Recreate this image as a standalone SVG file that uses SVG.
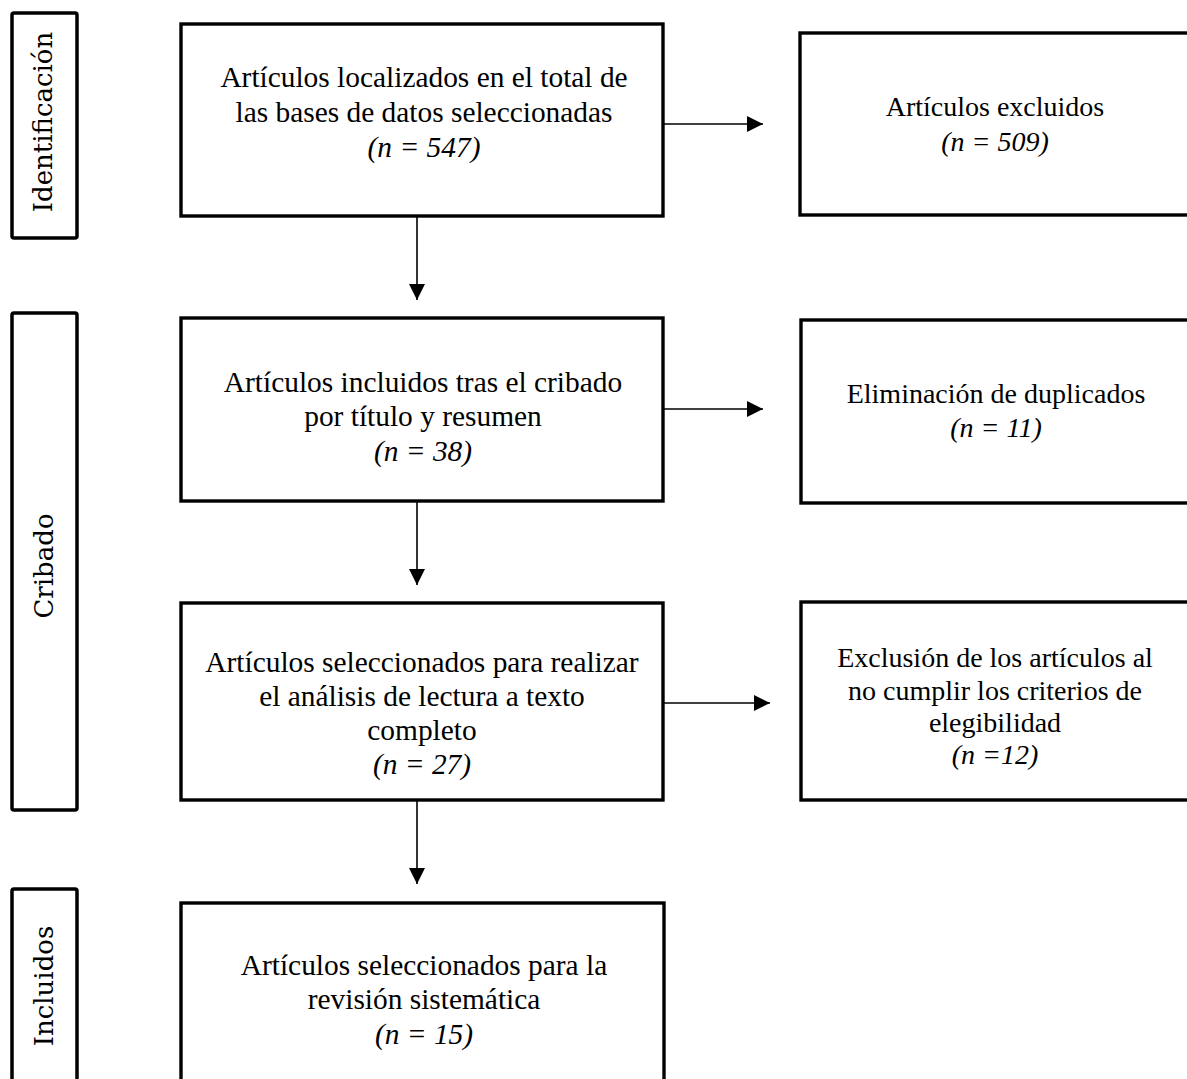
<svg xmlns="http://www.w3.org/2000/svg" width="1187" height="1079" viewBox="0 0 1187 1079">
<style>
.box{fill:#fff;stroke:#000;stroke-width:3.4}
.lbl{fill:#fff;stroke:#000;stroke-width:3.5}
.t{font-family:"Liberation Serif","Times New Roman",serif;font-size:28px;text-anchor:middle;fill:#000}
.L{font-size:29.4px}
.i{font-style:italic}
.v{font-family:"DejaVu Serif","Liberation Serif",serif;font-size:26px;text-anchor:middle;fill:#000}
.c{stroke:#000;stroke-width:1.6;fill:none}
</style>
<defs>
<marker id="ah" viewBox="0 0 16 16" refX="16" refY="8" markerWidth="16" markerHeight="16" markerUnits="userSpaceOnUse" orient="auto">
<path d="M0,0 L16,8 L0,16 Z" fill="#000"/>
</marker>
</defs>
<rect width="1187" height="1079" fill="#fff"/>
<g id="stage-identificacion">
<rect class="lbl" x="12" y="13" width="65" height="225" rx="2"/>
<text class="v" transform="translate(52,122) rotate(-90)">Identificación</text>
</g>
<g id="stage-cribado">
<rect class="lbl" x="12" y="313" width="65" height="497" rx="2"/>
<text class="v" transform="translate(53,566) rotate(-90)">Cribado</text>
</g>
<g id="stage-incluidos">
<rect class="lbl" x="12" y="889" width="65" height="220" rx="2"/>
<text class="v" transform="translate(53,986) rotate(-90)">Incluidos</text>
</g>
<g id="n-localizados">
<rect class="box" x="181" y="24" width="482" height="192"/>
<text class="t L" x="424" y="87">Artículos localizados en el total de</text>
<text class="t L" x="424" y="122">las bases de datos seleccionadas</text>
<text class="t L i" x="424" y="157">(n = 547)</text>
</g>
<g id="n-excluidos">
<rect class="box" x="800" y="33" width="420" height="182"/>
<text class="t" x="995" y="116">Artículos excluidos</text>
<text class="t i" x="995" y="151">(n = 509)</text>
</g>
<g id="n-cribado">
<rect class="box" x="181" y="318" width="482" height="183"/>
<text class="t L" x="423" y="392">Artículos incluidos tras el cribado</text>
<text class="t L" x="423" y="426">por título y resumen</text>
<text class="t L i" x="423" y="461">(n = 38)</text>
</g>
<g id="n-duplicados">
<rect class="box" x="801" y="320" width="420" height="183"/>
<text class="t" x="996" y="403">Eliminación de duplicados</text>
<text class="t i" x="996" y="437">(n = 11)</text>
</g>
<g id="n-texto-completo">
<rect class="box" x="181" y="603" width="482" height="197"/>
<text class="t L" x="422" y="672">Artículos seleccionados para realizar</text>
<text class="t L" x="422" y="706">el análisis de lectura a texto</text>
<text class="t L" x="422" y="740">completo</text>
<text class="t L i" x="422" y="774">(n = 27)</text>
</g>
<g id="n-elegibilidad">
<rect class="box" x="801" y="602" width="420" height="198"/>
<text class="t" x="995" y="667">Exclusión de los artículos al</text>
<text class="t" x="995" y="700">no cumplir los criterios de</text>
<text class="t" x="995" y="732">elegibilidad</text>
<text class="t i" x="995" y="764">(n =12)</text>
</g>
<g id="n-incluidos">
<rect class="box" x="181" y="903" width="483" height="200"/>
<text class="t L" x="424" y="975">Artículos seleccionados para la</text>
<text class="t L" x="424" y="1009">revisión sistemática</text>
<text class="t L i" x="424" y="1044">(n = 15)</text>
</g>
<g id="connectors">
<line class="c" x1="663" y1="124" x2="763" y2="124" marker-end="url(#ah)"/>
<line class="c" x1="663" y1="409" x2="763" y2="409" marker-end="url(#ah)"/>
<line class="c" x1="664" y1="703" x2="770" y2="703" marker-end="url(#ah)"/>
<line class="c" x1="417" y1="216" x2="417" y2="300" marker-end="url(#ah)"/>
<line class="c" x1="417" y1="501" x2="417" y2="585" marker-end="url(#ah)"/>
<line class="c" x1="417" y1="800" x2="417" y2="884" marker-end="url(#ah)"/>
</g>
</svg>
